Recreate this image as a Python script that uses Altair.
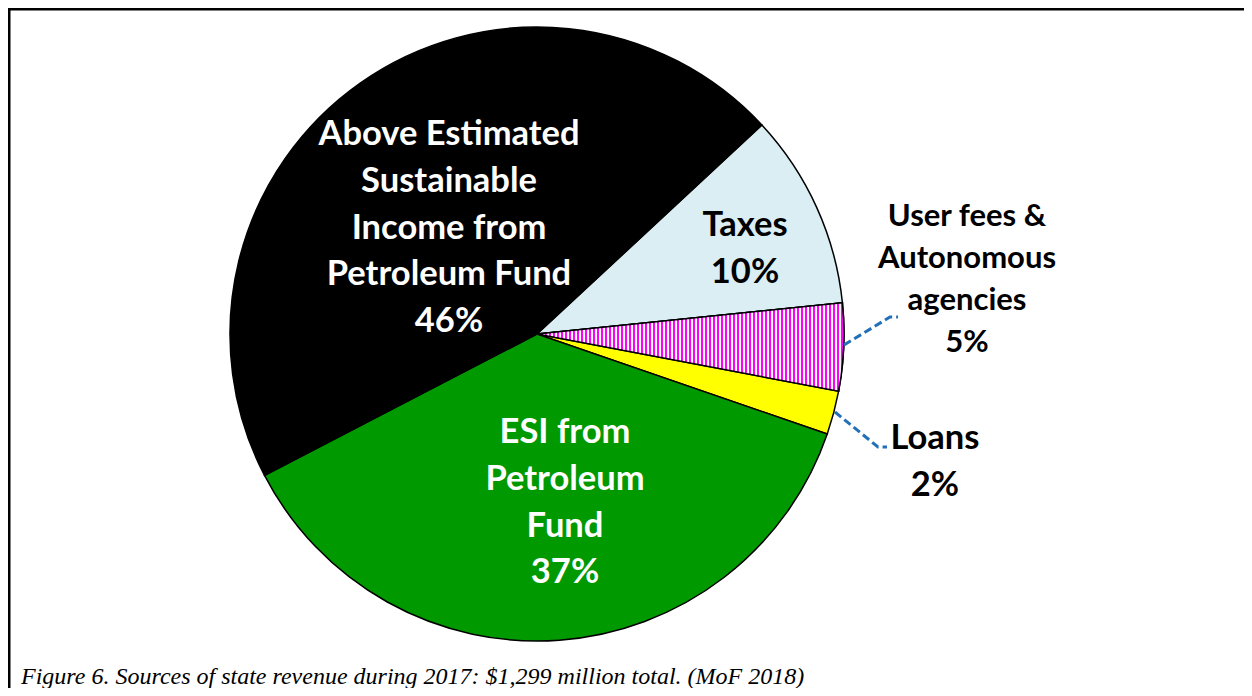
import math
import altair as alt
import pandas as pd

# ---------------- data ----------------
categories = [
    "Taxes",
    "User fees & Autonomous agencies",
    "Loans",
    "ESI from Petroleum Fund",
    "Above Estimated Sustainable Income from Petroleum Fund",
]
shares = [10.3, 4.6, 2.3, 37.1, 45.7]
pct_labels = ["10%", "5%", "2%", "37%", "46%"]
label_lines = [
    ["Taxes"],
    ["User fees &", "Autonomous", "agencies"],
    ["Loans"],
    ["ESI from", "Petroleum", "Fund"],
    ["Above Estimated", "Sustainable", "Income from", "Petroleum Fund"],
]
caption = "Figure 6. Sources of state revenue during 2017: $1,299 million total. (MoF 2018)"

# ---------------- layout / style (not data) ----------------
PAD_L, PAD_T = 3, 3
W, H = 1052, 646          # view size: pie centre sits at W/2, H/2
TOTAL_W, TOTAL_H = 1236, 680
CX, CY = W / 2, H / 2
R = 307
START = math.radians(47.1)
fill_colors = ["#DAEEF3", "#FFFFFF", "#FFFF00", "#009900", "#000000"]
text_colors = ["#000000", "#000000", "#000000", "#FFFFFF", "#FFFFFF"]
# first-line centre of each label, relative to pie centre
label_offsets = [(208, -108), (430, -117), (398, 105), (28, 99), (-88, -199)]
label_sizes = [34.5, 31, 34.5, 34.5, 34.5]
leader_paths = {
    "User fees & Autonomous agencies": [(307, 11), (353, -17), (361, -17)],
    "Loans": [(298, 78), (341, 113), (350, 113)],
}
LEADER_COLOR = "#2271B8"

# ---------------- tables ----------------
ends = pd.Series(shares).cumsum()
slices = pd.DataFrame({
    "category": categories,
    "share": shares,
    "start": ends - pd.Series(shares),
    "end": ends,
})

lab_rows = []
for cat, lines, pct, (dx, dy), col, fs in zip(categories, label_lines, pct_labels,
                                             label_offsets, text_colors, label_sizes):
    lab_rows.append({
        "category": cat,
        "txt": "\n".join(lines + [pct]),
        "lx": CX + dx,
        "ly": CY + dy,
        "col": col,
        "fs": fs,
    })
labels = pd.DataFrame(lab_rows)

lead_rows = []
for cat, pts in leader_paths.items():
    for i, (dx, dy) in enumerate(pts):
        lead_rows.append({"category": cat, "i": i, "px": CX + dx, "py": CY + dy})
leaders = pd.DataFrame(lead_rows)

theta_scale = alt.Scale(domain=[0, 100], range=[START, START + 2 * math.pi])

# ---------------- marks ----------------
pie = alt.Chart(slices).mark_arc(radius=R, stroke="#000000", strokeWidth=1.5).encode(
    theta=alt.Theta("start:Q", scale=theta_scale, stack=None),
    theta2=alt.Theta2("end:Q"),
    color=alt.Color("category:N", scale=alt.Scale(domain=categories, range=fill_colors), legend=None),
)

# vertical magenta stripes for the user-fees slice (bbox width ~ R)
period = 4.0
n = int(R / period) + 1
stops = []
for k in range(n):
    a = min(k * period / R, 1.0)
    b = min((k * period + 2.2) / R, 1.0)
    c = min((k + 1) * period / R, 1.0)
    stops += [
        alt.GradientStop(offset=a, color="#FF00FF"),
        alt.GradientStop(offset=b, color="#FF00FF"),
        alt.GradientStop(offset=b, color="#FFFFFF"),
        alt.GradientStop(offset=c, color="#FFFFFF"),
    ]
stripes = alt.LinearGradient(gradient="linear", stops=stops, x1=0, x2=1, y1=0, y2=0)

hatched = alt.Chart(slices).transform_filter(
    alt.datum.category == categories[1]
).mark_arc(radius=R, stroke="#000000", strokeWidth=1.5, fill=stripes).encode(
    theta=alt.Theta("start:Q", scale=theta_scale, stack=None),
    theta2=alt.Theta2("end:Q"),
)

lead = alt.Chart(leaders).mark_line(
    color=LEADER_COLOR, strokeWidth=3, strokeDash=[8, 4]
).encode(
    x=alt.X("px:Q", scale=None, axis=None),
    y=alt.Y("py:Q", scale=None, axis=None),
    detail="category:N",
    order="i:O",
)

def text_layer(df, lh):
    return alt.Chart(df).mark_text(
        font="Lato", fontWeight="bold", lineBreak="\n", lineHeight=lh,
        align="center", baseline="middle",
    ).encode(
        x=alt.X("lx:Q", scale=None, axis=None),
        y=alt.Y("ly:Q", scale=None, axis=None),
        text="txt:N",
        color=alt.Color("col:N", scale=None),
        size=alt.Size("fs:Q", scale=None),
    )

is_user = labels["category"].str.startswith("User")
txt_main = text_layer(labels[~is_user], 46.75)
txt_user = text_layer(labels[is_user], 42)

cap = alt.Chart(pd.DataFrame({"t": [caption]})).mark_text(
    font="Liberation Serif", fontStyle="italic", fontSize=24, align="left",
    baseline="alphabetic", color="#000000",
).encode(x=alt.value(10), y=alt.value(673), text="t:N")

frame = alt.Data(values=[{}])
top_rule = alt.Chart(frame).mark_rule(color="#000000", strokeWidth=3).encode(
    x=alt.value(-4), x2=alt.value(TOTAL_W), y=alt.value(-2)
)
left_rule = alt.Chart(frame).mark_rule(color="#000000", strokeWidth=3).encode(
    x=alt.value(-2), y=alt.value(-4), y2=alt.value(TOTAL_H)
)

chart = alt.layer(pie, hatched, lead, txt_main, txt_user, cap, top_rule, left_rule).properties(
    width=W,
    height=H,
    autosize=alt.AutoSizeParams(type="none"),
    padding={"left": PAD_L, "top": PAD_T, "right": TOTAL_W - PAD_L - W, "bottom": TOTAL_H - PAD_T - H},
).configure_view(stroke=None)

chart.save("out.html", embed_options={"renderer": "svg", "actions": False})
